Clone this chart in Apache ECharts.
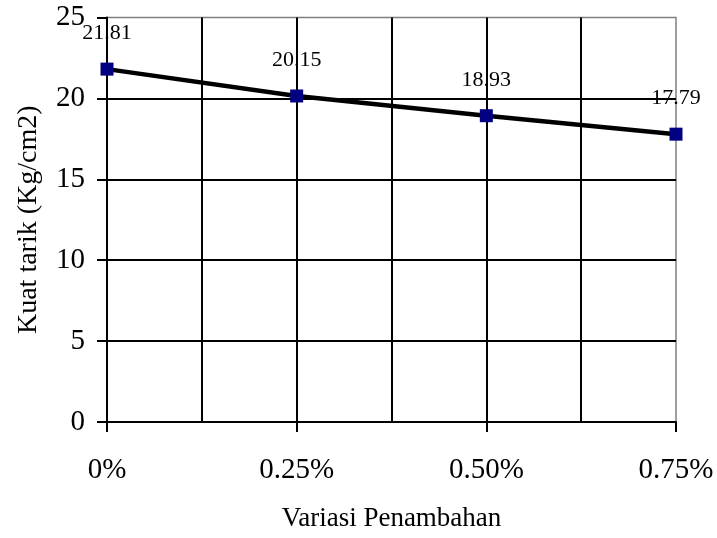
<!DOCTYPE html>
<html>
<head>
<meta charset="utf-8">
<script src="https://cdn.jsdelivr.net/npm/echarts@6/dist/echarts.min.js"></script>
<style>html,body{margin:0;padding:0;background:#fff}#c{width:717px;height:538px}</style>
</head>
<body>
<div id="c"></div>
<script>
const xValues = [0, 0.25, 0.5, 0.75];
const xTickLabels = ['0%', '0.25%', '0.50%', '0.75%'];
const kuatTarik = [21.81, 20.15, 18.93, 17.79];
const yTicks = [0, 5, 10, 15, 20, 25];

const FONT = '"Liberation Serif", "Times New Roman", serif';
const chart = echarts.init(document.getElementById('c'), null, {renderer: 'canvas'});
chart.setOption({
  animation: false,
  backgroundColor: '#fff',
  grid: {left: 107, right: 41, top: 17.5, bottom: 116, show: true, borderColor: '#808080', borderWidth: 1.5, containLabel: false},
  xAxis: {
    type: 'value', min: 0, max: 0.75, interval: 0.25,
    name: 'Variasi Penambahan', nameLocation: 'middle', nameGap: 83,
    nameTextStyle: {fontFamily: FONT, fontSize: 27, color: '#000'},
    axisLine: {show: true, onZero: false, lineStyle: {color: '#000', width: 2}},
    axisTick: {show: true, inside: false, length: 10, lineStyle: {color: '#000', width: 2}},
    axisLabel: {margin: 34, fontFamily: FONT, fontSize: 29, color: '#000',
      formatter: function (v) { const i = xValues.findIndex(x => Math.abs(x - v) < 1e-9); return i >= 0 ? xTickLabels[i] : ''; }},
    splitLine: {show: true, showMinLine: false, showMaxLine: false, lineStyle: {color: '#000', width: 2}},
    minorTick: {show: false, splitNumber: 2},
    minorSplitLine: {show: true, lineStyle: {color: '#000', width: 2}}
  },
  yAxis: {
    type: 'value', min: yTicks[0], max: yTicks[yTicks.length - 1], interval: 5,
    name: 'Kuat tarik (Kg/cm2)', nameLocation: 'middle', nameGap: 64, nameRotate: 90,
    nameTextStyle: {fontFamily: FONT, fontSize: 28, color: '#000'},
    axisLine: {show: true, lineStyle: {color: '#000', width: 2}},
    axisTick: {show: true, length: 10, lineStyle: {color: '#000', width: 2}},
    axisLabel: {margin: 22, fontFamily: FONT, fontSize: 29, color: '#000'},
    splitLine: {show: true, showMinLine: false, showMaxLine: false, lineStyle: {color: '#000', width: 2}}
  },
  series: [{
    type: 'line',
    data: xValues.map((x, i) => [x, kuatTarik[i]]),
    symbol: 'rect', symbolSize: 13,
    itemStyle: {color: '#000080'},
    lineStyle: {color: '#000', width: 4.5},
    label: {show: true, position: 'top', distance: 18, fontFamily: FONT, fontSize: 22, color: '#000',
      formatter: p => p.value[1].toFixed(2)},
    z: 5
  }]
});
</script>
</body>
</html>
